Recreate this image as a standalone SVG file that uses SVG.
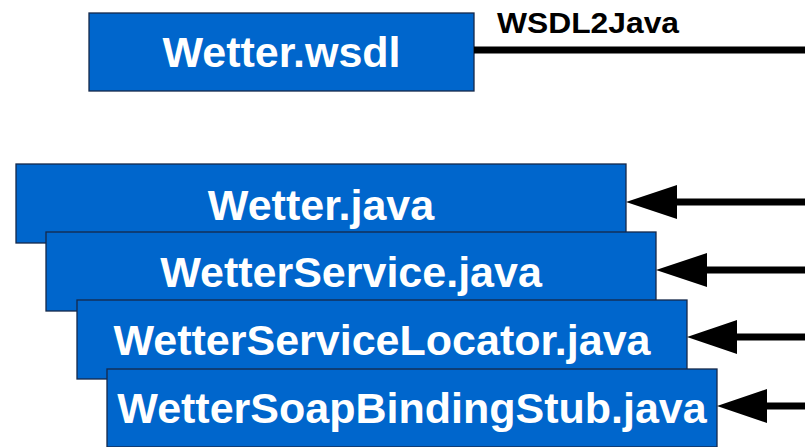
<svg xmlns="http://www.w3.org/2000/svg" width="805" height="447" viewBox="0 0 805 447">
<style>
.box{fill:#0066cc;stroke:#14284a;stroke-width:1.3}
.lbl{font-family:"Liberation Sans",Arial,sans-serif;font-weight:bold;font-size:43px;fill:#ffffff;text-anchor:middle}
.cap{font-family:"Liberation Sans",Arial,sans-serif;font-weight:bold;font-size:29px;fill:#000000}
.ln{stroke:#000000;stroke-width:7;fill:none}
</style>
<g id="wsdl">
<rect class="box" x="89" y="13" width="385" height="78"/>
<text class="lbl" x="281.5" y="67">Wetter.wsdl</text>
</g>
<g id="wetter-java">
<rect class="box" x="16" y="164" width="610" height="79"/>
<text class="lbl" x="321" y="220">Wetter.java</text>
</g>
<g id="wetterservice-java">
<rect class="box" x="46" y="232" width="610" height="79"/>
<text class="lbl" x="351" y="287">WetterService.java</text>
</g>
<g id="wetterservicelocator-java">
<rect class="box" x="77" y="300" width="610" height="79"/>
<text class="lbl" x="382" y="355">WetterServiceLocator.java</text>
</g>
<g id="wettersoapbindingstub-java">
<rect class="box" x="107" y="369" width="610" height="78"/>
<text class="lbl" x="412" y="423">WetterSoapBindingStub.java</text>
</g>
<g id="connectors">
<line class="ln" x1="474" y1="50" x2="805" y2="50"/>
<text class="cap" x="497" y="33" textLength="182" lengthAdjust="spacingAndGlyphs">WSDL2Java</text>
<line class="ln" x1="805" y1="202" x2="677" y2="202"/>
<path d="M626,202 L677,185 L677,219 Z" fill="#000"/>
<line class="ln" x1="805" y1="270" x2="707" y2="270"/>
<path d="M656,270 L707,253 L707,287 Z" fill="#000"/>
<line class="ln" x1="805" y1="337" x2="737" y2="337"/>
<path d="M687,337 L737,320 L737,354 Z" fill="#000"/>
<line class="ln" x1="805" y1="406" x2="767" y2="406"/>
<path d="M717,406 L767,389 L767,423 Z" fill="#000"/>
</g>
</svg>
